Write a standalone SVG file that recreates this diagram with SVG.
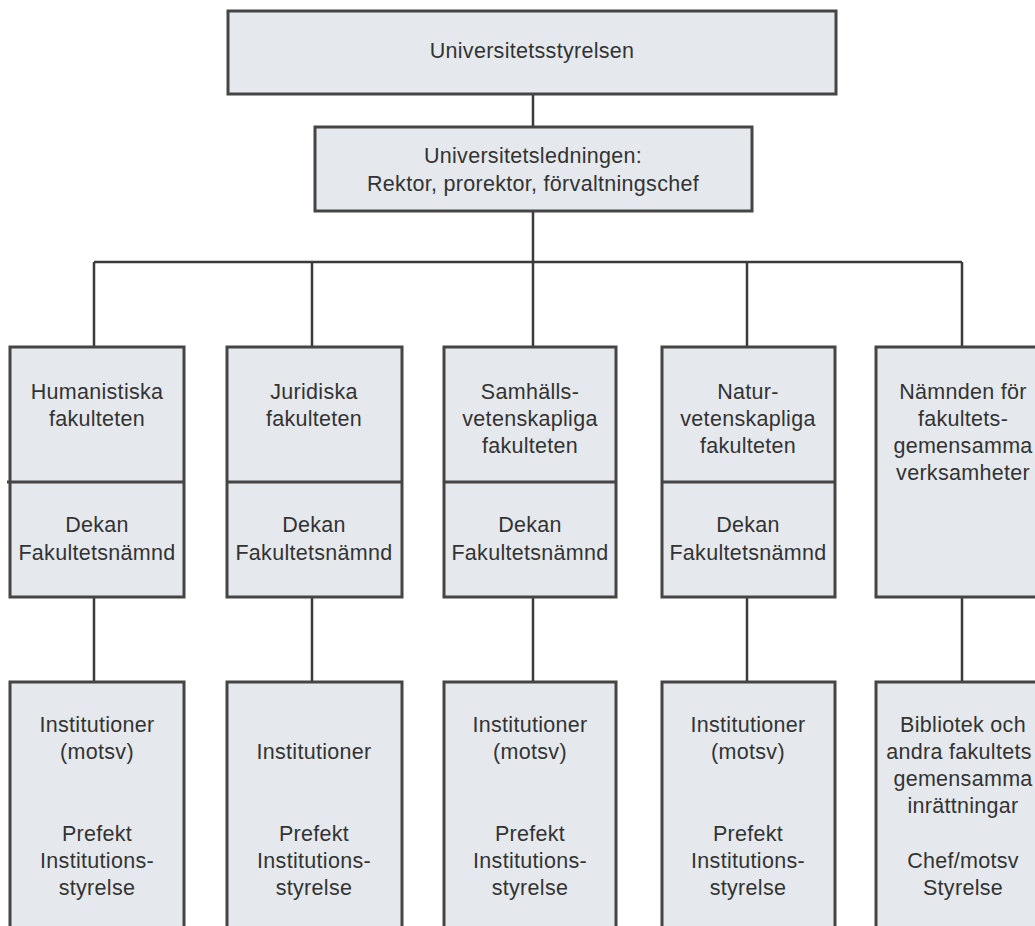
<svg xmlns="http://www.w3.org/2000/svg" width="1035" height="926" viewBox="0 0 1035 926">
<style>
.box{fill:#e5e9ed;stroke:#454545;stroke-width:3}
.div{stroke:#454545;stroke-width:3}
.con{stroke:#3a3a3a;stroke-width:2.5;fill:none}
text{font-family:"Liberation Sans",Arial,sans-serif;font-size:21.5px;letter-spacing:0.3px;fill:#333333;text-anchor:middle}
</style>
<rect width="1035" height="926" fill="#ffffff"/>
<g id="connectors">
<line class="con" x1="533" y1="94" x2="533" y2="127"/>
<line class="con" x1="533" y1="211" x2="533" y2="262"/>
<line class="con" x1="94" y1="262" x2="962" y2="262"/>
<line class="con" x1="94" y1="262" x2="94" y2="347"/>
<line class="con" x1="312" y1="262" x2="312" y2="347"/>
<line class="con" x1="747" y1="262" x2="747" y2="347"/>
<line class="con" x1="962" y1="262" x2="962" y2="347"/>
<line class="con" x1="533" y1="262" x2="533" y2="347"/>
<line class="con" x1="94" y1="597" x2="94" y2="682"/>
<line class="con" x1="312" y1="597" x2="312" y2="682"/>
<line class="con" x1="533" y1="597" x2="533" y2="682"/>
<line class="con" x1="747" y1="597" x2="747" y2="682"/>
<line class="con" x1="962" y1="597" x2="962" y2="682"/>
</g>
<g id="styrelsen">
<rect class="box" x="228" y="11" width="608" height="83"/>
<text x="532" y="58">Universitetsstyrelsen</text>
</g>
<g id="ledningen">
<rect class="box" x="315" y="127" width="437" height="84"/>
<text x="533" y="163">Universitetsledningen:</text>
<text x="533" y="191">Rektor, prorektor, förvaltningschef</text>
</g>
<g id="humanistiska">
<rect class="box" x="10" y="347" width="174" height="250"/>
<line class="div" x1="7" y1="482" x2="184" y2="482"/>
<text x="97" y="399">Humanistiska</text>
<text x="97" y="426">fakulteten</text>
<text x="97" y="532">Dekan</text>
<text x="97" y="560">Fakultetsnämnd</text>
</g>
<g id="juridiska">
<rect class="box" x="227" y="347" width="175" height="250"/>
<line class="div" x1="227" y1="482" x2="402" y2="482"/>
<text x="314" y="399">Juridiska</text>
<text x="314" y="426">fakulteten</text>
<text x="314" y="532">Dekan</text>
<text x="314" y="560">Fakultetsnämnd</text>
</g>
<g id="samhalls">
<rect class="box" x="444" y="347" width="172" height="250"/>
<line class="div" x1="444" y1="482" x2="616" y2="482"/>
<text x="530" y="399">Samhälls-</text>
<text x="530" y="426">vetenskapliga</text>
<text x="530" y="453">fakulteten</text>
<text x="530" y="532">Dekan</text>
<text x="530" y="560">Fakultetsnämnd</text>
</g>
<g id="natur">
<rect class="box" x="662" y="347" width="173" height="250"/>
<line class="div" x1="662" y1="482" x2="835" y2="482"/>
<text x="748" y="399">Natur-</text>
<text x="748" y="426">vetenskapliga</text>
<text x="748" y="453">fakulteten</text>
<text x="748" y="532">Dekan</text>
<text x="748" y="560">Fakultetsnämnd</text>
</g>
<g id="namnden">
<rect class="box" x="876" y="347" width="174" height="250"/>
<text x="963" y="399">Nämnden för</text>
<text x="963" y="426">fakultets-</text>
<text x="963" y="453">gemensamma</text>
<text x="963" y="480">verksamheter</text>
</g>
<g id="inst-hum">
<rect class="box" x="10" y="682" width="174" height="260"/>
<text x="97" y="732">Institutioner</text>
<text x="97" y="759">(motsv)</text>
<text x="97" y="841">Prefekt</text>
<text x="97" y="868">Institutions-</text>
<text x="97" y="895">styrelse</text>
</g>
<g id="inst-jur">
<rect class="box" x="227" y="682" width="175" height="260"/>
<text x="314" y="759">Institutioner</text>
<text x="314" y="841">Prefekt</text>
<text x="314" y="868">Institutions-</text>
<text x="314" y="895">styrelse</text>
</g>
<g id="inst-sam">
<rect class="box" x="444" y="682" width="172" height="260"/>
<text x="530" y="732">Institutioner</text>
<text x="530" y="759">(motsv)</text>
<text x="530" y="841">Prefekt</text>
<text x="530" y="868">Institutions-</text>
<text x="530" y="895">styrelse</text>
</g>
<g id="inst-nat">
<rect class="box" x="662" y="682" width="173" height="260"/>
<text x="748" y="732">Institutioner</text>
<text x="748" y="759">(motsv)</text>
<text x="748" y="841">Prefekt</text>
<text x="748" y="868">Institutions-</text>
<text x="748" y="895">styrelse</text>
</g>
<g id="bibliotek">
<rect class="box" x="876" y="682" width="174" height="260"/>
<text x="963" y="732">Bibliotek och</text>
<text x="959" y="759">andra fakultets</text>
<text x="963" y="786">gemensamma</text>
<text x="963" y="813">inrättningar</text>
<text x="963" y="868">Chef/motsv</text>
<text x="963" y="895">Styrelse</text>
</g>
</svg>
